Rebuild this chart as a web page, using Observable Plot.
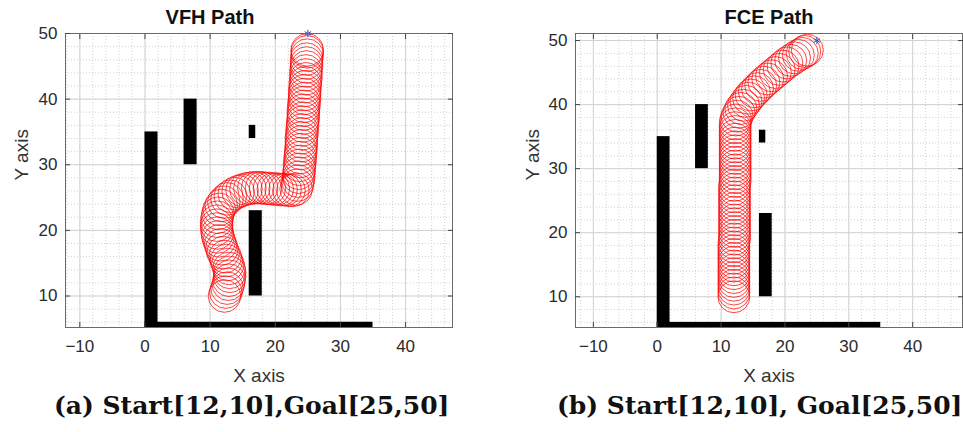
<!DOCTYPE html>
<html>
<head>
<meta charset="utf-8">
<script src="https://cdn.jsdelivr.net/npm/d3@7"></script>
<script src="https://cdn.jsdelivr.net/npm/@observablehq/plot@0.6"></script>
<style>
  body { margin: 0; background: white; }
  #wrap { position: relative; width: 963px; height: 432px; overflow: hidden; background: white; }
  .panel { position: absolute; top: 0; }
  .cap { position: absolute; top: 391px; font-family: "DejaVu Serif", serif; font-weight: bold; font-size: 25px; color: #111; white-space: nowrap; }
</style>
</head>
<body>
<div id="wrap">
  <div id="p1" class="panel" style="left:0px"></div>
  <div id="p2" class="panel" style="left:480px"></div>
  <div class="cap" id="c1" style="left:54px">(a) Start[12,10],Goal[25,50]</div>
  <div class="cap" id="c2" style="left:557px">(b) Start[12,10], Goal[25,50]</div>
</div>
<script>
// ---- data ----
const titles = ["VFH Path", "FCE Path"];
const xTicks = [-10, 0, 10, 20, 30, 40];
const yTicks = [10, 20, 30, 40, 50];
const minorStep = 2;
const robotRadius = 2.5;
const goal = [25, 50];
const start = [12, 10];

// obstacles (rectangles)
const obsX1 = [0, 0, 6, 16, 16];
const obsX2 = [2, 35, 8, 17, 18];
const obsY1 = [0, 0, 30, 34, 10];
const obsY2 = [35, 6, 40, 36, 23];

// VFH path centres
const vfhX = [12.2,12.4,12.6,12.8,12.9,13.0,13.0,12.9,12.7,12.5,12.3,12.0,11.8,11.6,11.4,11.2,11.1,11.0,11.0,11.0,
  11.1,11.2,11.4,11.7,12.1,12.6,13.1,13.7,14.3,14.9,15.5,16.1,16.7,17.3,17.9,18.5,19.1,19.7,20.3,20.9,
  21.5,22.1,22.7,23.2,23.4,23.5,
  23.6,23.6,23.7,23.7,23.8,23.8,23.9,23.9,24.0,24.0,24.0,24.1,24.1,24.2,24.2,24.3,24.3,24.3,24.4,24.4,
  24.5,24.5,24.5,24.6,24.6,24.7,24.7,24.7,24.8,24.8,24.8,24.9,24.9,24.9];
const vfhY = [10.0,10.6,11.2,11.8,12.4,13.0,13.6,14.2,14.8,15.4,16.0,16.6,17.2,17.8,18.4,19.0,19.6,20.2,20.8,21.4,
  22.0,22.6,23.2,23.8,24.3,24.8,25.2,25.6,25.9,26.1,26.3,26.4,26.5,26.5,26.5,26.4,26.4,26.3,26.3,26.2,
  26.2,26.1,26.1,26.3,26.9,27.5,
  28.1,28.7,29.3,29.9,30.5,31.1,31.7,32.3,32.9,33.5,34.1,34.7,35.3,35.9,36.5,37.1,37.7,38.3,38.9,39.5,
  40.1,40.7,41.3,41.9,42.5,43.1,43.7,44.3,44.9,45.5,46.1,46.7,47.2,47.5];

// FCE path centres
const fceX = [12.0,12.0,12.0,12.0,12.0,12.0,12.0,12.0,12.0,12.0,12.0,12.0,12.0,12.0,12.0,
  12.1,12.1,12.1,12.1,12.1,12.1,12.1,12.1,12.1,12.1,12.1,12.1,12.1,12.1,12.1,
  12.2,12.2,12.2,12.2,12.2,12.2,12.2,12.2,12.2,12.2,12.2,12.2,12.2,12.2,12.2,12.2,
  12.3,12.5,12.8,13.1,13.5,13.9,14.3,14.7,15.2,15.7,16.2,16.7,17.3,17.9,18.5,19.1,19.7,20.3,20.9,21.5,22.1,22.7,23.1,23.5];
const fceY = [10.0,10.6,11.2,11.8,12.4,13.0,13.6,14.2,14.8,15.4,16.0,16.6,17.2,17.8,18.4,
  19.0,19.6,20.2,20.8,21.4,22.0,22.6,23.2,23.8,24.4,25.0,25.6,26.2,26.8,27.4,
  28.0,28.6,29.2,29.8,30.4,31.0,31.6,32.2,32.8,33.4,34.0,34.6,35.2,35.8,36.4,37.0,
  37.6,38.2,38.8,39.4,39.9,40.5,41.0,41.5,42.0,42.5,43.0,43.5,44.0,44.5,45.0,45.5,46.0,46.5,46.9,47.3,47.7,48.0,48.3,48.5];

// ---- build ----
const obstacles = obsX1.map((_, i) => ({x1: obsX1[i], x2: obsX2[i], y1: obsY1[i], y2: obsY2[i]}));
const paths = [
  vfhX.map((x, i) => ({x, y: vfhY[i]})),
  fceX.map((x, i) => ({x, y: fceY[i]}))
];

const layouts = [
  {width: 480, height: 390, ml: 65, mr: 28, mt: 33, mb: 63, xd: [-12.2, 47.2], yd: [5.2, 50], titleDx: -49, ylabDx: -44},
  {width: 483, height: 390, ml: 95, mr: 1, mt: 33, mb: 63, xd: [-12.8, 47.8], yd: [5.2, 51.1], titleDx: 0, ylabDx: -43}
];

function panel(k) {
  const L = layouts[k];
  const pxPerUnit = (L.width - L.ml - L.mr) / (L.xd[1] - L.xd[0]);
  const minorX = d3.range(Math.ceil(L.xd[0] / minorStep) * minorStep, L.xd[1], minorStep);
  const minorY = d3.range(Math.ceil(L.yd[0] / minorStep) * minorStep, L.yd[1], minorStep);
  const font = "Liberation Sans, Arial, sans-serif";
  return Plot.plot({
    width: L.width, height: L.height,
    marginLeft: L.ml, marginRight: L.mr, marginTop: L.mt, marginBottom: L.mb,
    x: {domain: L.xd},
    y: {domain: L.yd},
    style: {fontFamily: font, background: "white", overflow: "visible", color: "#333"},
    marks: [
      Plot.gridX(minorX, {stroke: "#c6c6c6", strokeOpacity: 1, strokeDasharray: "1,2", strokeWidth: 0.8}),
      Plot.gridY(minorY, {stroke: "#c6c6c6", strokeOpacity: 1, strokeDasharray: "1,2", strokeWidth: 0.8}),
      Plot.gridX(xTicks, {stroke: "#d2d2d2", strokeOpacity: 1, strokeWidth: 1}),
      Plot.gridY(yTicks, {stroke: "#d2d2d2", strokeOpacity: 1, strokeWidth: 1}),
      Plot.rect(obstacles, {x1: "x1", x2: "x2", y1: "y1", y2: "y2", fill: "black", clip: true}),
      Plot.dot(paths[k], {x: "x", y: "y", r: robotRadius * pxPerUnit, stroke: "#ff0000", strokeWidth: 0.8, strokeOpacity: 0.9, clip: true}),
      Plot.dot([goal], {x: d => d[0], y: d => d[1], symbol: "asterisk", r: 3.5, stroke: "#2a4fc0", strokeWidth: 1}),
      Plot.frame({stroke: "#6a6a6a", strokeWidth: 1}),
      Plot.axisX(xTicks, {anchor: "bottom", tickSize: 0, tickPadding: 12, fontSize: 17, fill: "#2b2b2b", label: null}),
      Plot.axisY(yTicks, {anchor: "left", tickSize: 0, tickPadding: 8, fontSize: 17, fill: "#2b2b2b", label: null}),
      Plot.axisX(xTicks, {anchor: "bottom", tickSize: -5, fill: "none", stroke: "#444", label: null}),
      Plot.axisX(xTicks, {anchor: "top", tickSize: -5, fill: "none", stroke: "#444", label: null}),
      Plot.axisY(yTicks, {anchor: "left", tickSize: -5, fill: "none", stroke: "#444", label: null}),
      Plot.axisY(yTicks, {anchor: "right", tickSize: -5, fill: "none", stroke: "#444", label: null}),
      Plot.text([titles[k]], {frameAnchor: "top", dy: -16, dx: L.titleDx, fontWeight: "bold", fontSize: 20, fill: "#111", lineAnchor: "middle"}),
      Plot.text(["X axis"], {frameAnchor: "bottom", dy: 48, fontSize: 19, fill: "#333", lineAnchor: "middle"}),
      Plot.text(["Y axis"], {frameAnchor: "left", dx: L.ylabDx, rotate: -90, fontSize: 19, fill: "#333", lineAnchor: "middle"})
    ]
  });
}

document.getElementById("p1").appendChild(panel(0));
document.getElementById("p2").appendChild(panel(1));
</script>
</body>
</html>
